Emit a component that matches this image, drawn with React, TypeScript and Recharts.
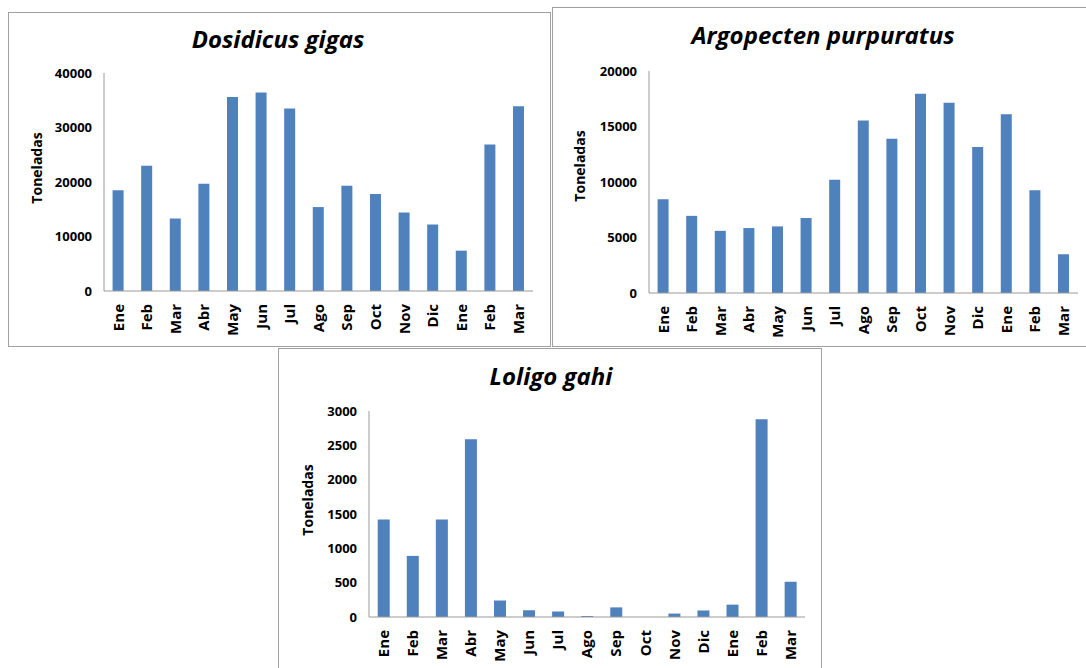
import { BarChart, Bar, XAxis, YAxis } from 'recharts';

// Captura mensual (toneladas), Ene del primer año hasta Mar del siguiente
const MESES = ['Ene', 'Feb', 'Mar', 'Abr', 'May', 'Jun', 'Jul', 'Ago', 'Sep', 'Oct', 'Nov', 'Dic', 'Ene', 'Feb', 'Mar'];
const DOSIDICUS = [18500, 23000, 13300, 19700, 35600, 36400, 33500, 15400, 19300, 17800, 14400, 12200, 7400, 26900, 33900];
const ARGOPECTEN = [8450, 6950, 5600, 5850, 6000, 6750, 10200, 15550, 13900, 17950, 17150, 13150, 16100, 9250, 3500];
const LOLIGO = [1420, 890, 1420, 2590, 240, 100, 80, 15, 140, 0, 50, 95, 180, 2880, 515];

const TICKS_DOSIDICUS = [0, 10000, 20000, 30000, 40000];
const TICKS_ARGOPECTEN = [0, 5000, 10000, 15000, 20000];
const TICKS_LOLIGO = [0, 500, 1000, 1500, 2000, 2500, 3000];

const BAR_COLOR = '#4F81BD';
const AXIS_COLOR = '#9a9a9a';
const FONT = '"Open Sans", "DejaVu Sans", sans-serif';

const toRows = (values: number[]) => MESES.map((mes, i) => ({ mes, valor: values[i] }));

type Box = { left: number; top: number; width: number; height: number };
type Plot = { left: number; top: number; right: number; bottom: number };

const Y_AXIS_W = 50;
const X_AXIS_H = 50;

function MonthTick({ x, y, payload }: any) {
  const ty = y + 13;
  return (
    <text
      x={x}
      y={ty}
      transform={`rotate(-90, ${x}, ${ty})`}
      textAnchor="end"
      dy="0.36em"
      fontFamily={FONT}
      fontSize={15}
      fontWeight={700}
      fill="#000"
    >
      {payload.value}
    </text>
  );
}

function Panel({ box, plot, values, ticks }: { box: Box; plot: Plot; values: number[]; ticks: number[] }) {
  const margin = {
    left: plot.left - box.left - Y_AXIS_W,
    top: plot.top - box.top,
    right: box.width - (plot.right - box.left),
    bottom: box.height - (plot.bottom - box.top) - X_AXIS_H,
  };
  return (
    <>
      <div
        style={{
          position: 'absolute',
          left: box.left,
          top: box.top,
          width: box.width,
          height: box.height,
          border: '1px solid #a0a0a0',
          boxSizing: 'border-box',
          background: '#fff',
        }}
      />
      <div style={{ position: 'absolute', left: box.left, top: box.top }}>
        <BarChart width={box.width} height={box.height} data={toRows(values)} margin={margin} barCategoryGap="30%">
          <XAxis
            dataKey="mes"
            interval={0}
            tickLine={false}
            tickSize={0}
            tickMargin={0}
            height={X_AXIS_H}
            stroke={AXIS_COLOR}
            tick={<MonthTick />}
          />
          <YAxis
            width={Y_AXIS_W}
            domain={[ticks[0], ticks[ticks.length - 1]]}
            ticks={ticks}
            interval={0}
            tickLine={false}
            tickSize={0}
            tickMargin={12}
            stroke={AXIS_COLOR}
            tick={{ fill: '#000', fontSize: 13, fontWeight: 700, fontFamily: FONT }}
          />
          <Bar dataKey="valor" fill={BAR_COLOR} isAnimationActive={false} />
        </BarChart>
      </div>
    </>
  );
}

function Titles() {
  const title = { fontFamily: FONT, fontSize: 24, fontWeight: 700, fontStyle: 'italic' as const, fill: '#000' };
  const axis = { fontFamily: FONT, fontSize: 14, fontWeight: 700, fill: '#000' };
  const yLabel = (cx: number, cy: number) => (
    <text x={cx} y={cy} transform={`rotate(-90, ${cx}, ${cy})`} textAnchor="middle" dy="0.36em" {...axis}>
      Toneladas
    </text>
  );
  return (
    <svg width={1086} height={668} style={{ position: 'absolute', left: 0, top: 0, pointerEvents: 'none' }}>
      <text x={278} y={48} textAnchor="middle" {...title}>Dosidicus gigas</text>
      <text x={823} y={44} textAnchor="middle" {...title}>Argopecten purpuratus</text>
      <text x={551} y={385} textAnchor="middle" {...title}>Loligo gahi</text>
      {yLabel(37, 168)}
      {yLabel(580, 166)}
      {yLabel(308, 500)}
    </svg>
  );
}

export default function App() {
  return (
    <div style={{ position: 'absolute', left: 0, top: 0, width: 1086, height: 668, overflow: 'hidden', background: '#fff' }}>
      <Panel
        box={{ left: 8, top: 12, width: 543, height: 335 }}
        plot={{ left: 104, top: 73, right: 533, bottom: 291 }}
        values={DOSIDICUS}
        ticks={TICKS_DOSIDICUS}
      />
      <Panel
        box={{ left: 552, top: 7, width: 545, height: 340 }}
        plot={{ left: 649, top: 71, right: 1078, bottom: 293 }}
        values={ARGOPECTEN}
        ticks={TICKS_ARGOPECTEN}
      />
      <Panel
        box={{ left: 278, top: 348, width: 544, height: 330 }}
        plot={{ left: 369, top: 411, right: 805, bottom: 617 }}
        values={LOLIGO}
        ticks={TICKS_LOLIGO}
      />
      <Titles />
    </div>
  );
}
